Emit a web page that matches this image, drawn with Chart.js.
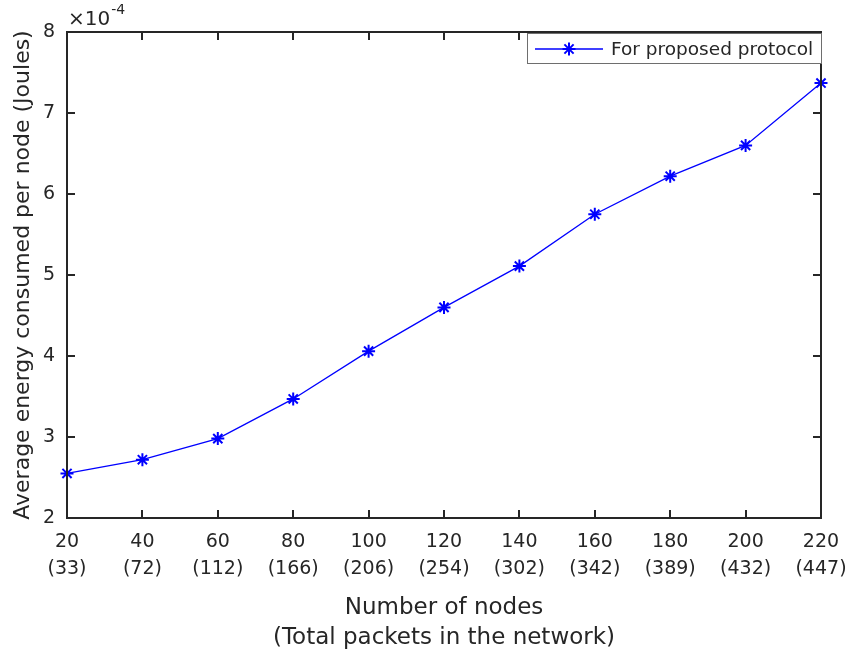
<!DOCTYPE html>
<html>
<head>
<meta charset="utf-8">
<script src="https://cdn.jsdelivr.net/npm/chart.js@4.4.0/dist/chart.umd.min.js"></script>
<style>
  html, body { margin: 0; padding: 0; background: #fff; }
  #wrap { width: 851px; height: 655px; }
</style>
</head>
<body>
<div id="wrap"><canvas id="energyChart" width="851" height="655"></canvas></div>
<script>
'use strict';

// ── data ──────────────────────────────────────────────
const nodes   = [20, 40, 60, 80, 100, 120, 140, 160, 180, 200, 220];
const packets = [33, 72, 112, 166, 206, 254, 302, 342, 389, 432, 447];
// average energy per node, in units of 1e-4 J
const energy  = [2.55, 2.72, 2.98, 3.47, 4.06, 4.60, 5.11, 5.75, 6.22, 6.60, 7.37];
const yTicks  = [2, 3, 4, 5, 6, 7, 8];

const seriesLabel = 'For proposed protocol';
const FONT = '"DejaVu Sans", "Liberation Sans", Arial, sans-serif';
const INK = '#262626';
const BLUE = '#0000FF';

const labels = nodes.map((n, i) => [String(n), '(' + packets[i] + ')']);

// MATLAB-style box: frame, inward ticks, exponent label, legend in the corner
const matlabBox = {
  id: 'matlabBox',
  afterDraw(chart) {
    const { ctx, chartArea: a, scales: { x, y } } = chart;
    const tick = 8;
    ctx.save();
    ctx.strokeStyle = INK;
    ctx.lineWidth = 2;
    ctx.strokeRect(a.left, a.top, a.right - a.left, a.bottom - a.top);

    ctx.beginPath();
    nodes.forEach((_, i) => {
      const px = Math.round(x.getPixelForValue(i));
      ctx.moveTo(px, a.bottom); ctx.lineTo(px, a.bottom - tick);
      ctx.moveTo(px, a.top);    ctx.lineTo(px, a.top + tick);
    });
    yTicks.forEach(v => {
      const py = Math.round(y.getPixelForValue(v));
      ctx.moveTo(a.left, py);  ctx.lineTo(a.left + tick, py);
      ctx.moveTo(a.right, py); ctx.lineTo(a.right - tick, py);
    });
    ctx.stroke();

    // ×10^-4
    ctx.fillStyle = INK;
    ctx.textAlign = 'left';
    ctx.textBaseline = 'alphabetic';
    ctx.font = '20px ' + FONT;
    ctx.fillText('\u00d710', a.left + 1, 25);
    const w = ctx.measureText('\u00d710').width;
    ctx.font = '14px ' + FONT;
    ctx.fillText('-4', a.left + 1 + w + 1, 14);

    // legend
    const ds = chart.data.datasets[0];
    const lx = 527, ly = 33, lw = a.right + 1 - lx, lh = 31;
    ctx.fillStyle = '#fff';
    ctx.fillRect(lx, ly, lw, lh);
    ctx.strokeStyle = '#6e6e6e';
    ctx.lineWidth = 1;
    ctx.strokeRect(lx + 0.5, ly + 0.5, lw - 1, lh - 1);
    const cy = ly + 16;
    ctx.strokeStyle = ds.borderColor;
    ctx.lineWidth = ds.borderWidth;
    ctx.beginPath();
    ctx.moveTo(535, cy); ctx.lineTo(603, cy);
    ctx.stroke();
    ctx.lineWidth = ds.pointBorderWidth;
    Chart.helpers.drawPoint(ctx, { pointStyle: 'star', radius: ds.pointRadius, borderWidth: ds.pointBorderWidth }, 569, cy);
    ctx.fillStyle = INK;
    ctx.font = '18.5px ' + FONT;
    ctx.textBaseline = 'middle';
    ctx.fillText(ds.label, 611, cy + 1);
    ctx.restore();
  }
};

new Chart(document.getElementById('energyChart').getContext('2d'), {
  type: 'line',
  data: {
    labels,
    datasets: [{
      label: seriesLabel,
      data: energy,
      borderColor: BLUE,
      backgroundColor: BLUE,
      borderWidth: 1.3,
      pointStyle: 'star',
      pointRadius: 6.5,
      pointBorderWidth: 2,
      pointBorderColor: BLUE,
      tension: 0,
      fill: false,
      clip: false,
    }],
  },
  options: {
    responsive: false,
    animation: false,
    events: [],
    layout: { padding: { top: 32, right: 30, left: 0, bottom: 0 } },
    plugins: {
      legend: { display: false },
      tooltip: { enabled: false },
    },
    scales: {
      x: {
        offset: false,
        grid: { display: false, drawTicks: false },
        border: { display: false },
        afterFit: s => { s.height = 137; s.paddingLeft = 0; s.paddingRight = 0; },
        ticks: {
          autoSkip: false,
          maxRotation: 0,
          color: INK,
          padding: 11,
          font: { family: FONT, size: 19, lineHeight: 27 / 19 },
        },
        title: {
          display: true,
          text: ['Number of nodes', '(Total packets in the network)'],
          color: INK,
          font: { family: FONT, size: 23, lineHeight: 30 / 23 },
          padding: { top: 0, bottom: 2 },
        },
      },
      y: {
        min: 2,
        max: 8,
        grid: { display: false, drawTicks: false },
        border: { display: false },
        afterFit: s => { s.width = 67; s.paddingTop = 0; s.paddingBottom = 0; },
        afterBuildTicks: s => { s.ticks = yTicks.map(v => ({ value: v })); },
        ticks: {
          color: INK,
          padding: 12,
          font: { family: FONT, size: 19 },
        },
        title: {
          display: true,
          text: 'Average energy consumed per node (Joules)',
          color: INK,
          font: { family: FONT, size: 22, lineHeight: 1.2 },
          padding: { top: 10, bottom: 0 },
        },
      },
    },
  },
  plugins: [matlabBox],
});
</script>
</body>
</html>
